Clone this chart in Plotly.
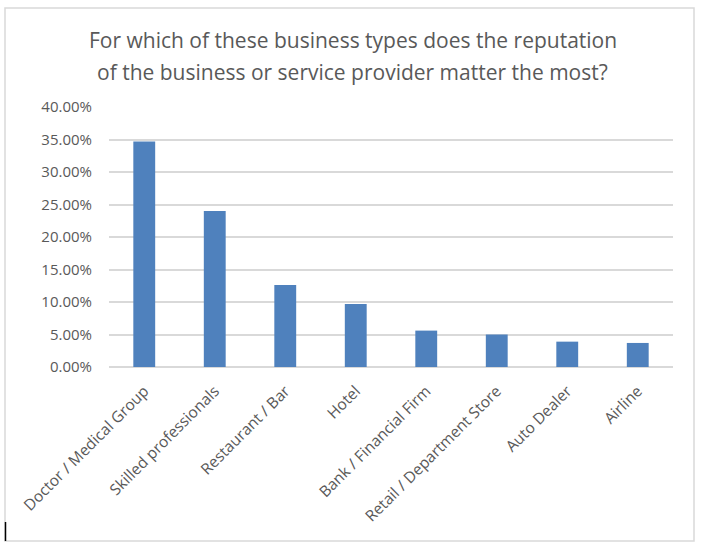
import plotly.graph_objects as go

categories = ["Doctor / Medical Group", "Skilled professionals", "Restaurant / Bar", "Hotel",
              "Bank / Financial Firm", "Retail / Department Store", "Auto Dealer", "Airline"]
values = [0.347, 0.240, 0.126, 0.097, 0.056, 0.050, 0.039, 0.037]
y_ticks = [0, 0.05, 0.10, 0.15, 0.20, 0.25, 0.30, 0.35, 0.40]
y_tick_labels = ["0.00%", "5.00%", "10.00%", "15.00%", "20.00%", "25.00%", "30.00%", "35.00%", "40.00%"]
title_lines = ["For which of these business types does the reputation",
               "of the business or service provider matter the most?"]

fig = go.Figure(go.Bar(x=categories, y=values, marker_color="#4f81bd", marker_line_width=0))

plot_h = 548 - 107 - 181
plot_w = 701 - 109 - 28


def py(pix):
    return (548 - 181 - pix) / plot_h


def px(pix):
    return (pix - 109) / plot_w


annotations = [
    dict(text=title_lines[0], xref="paper", yref="paper", x=0.432, y=py(40), xanchor="center",
         yanchor="middle", showarrow=False, font=dict(size=21, color="#595959", family="Open Sans")),
    dict(text=title_lines[1], xref="paper", yref="paper", x=0.432, y=py(72), xanchor="center",
         yanchor="middle", showarrow=False, font=dict(size=21, color="#595959", family="Open Sans")),
]

fig.update_layout(
    width=701, height=548,
    paper_bgcolor="white", plot_bgcolor="white",
    margin=dict(l=109, r=28, t=107, b=181),
    bargap=0.69,
    showlegend=False,
    font=dict(family="Open Sans", color="#595959"),
    annotations=annotations,
    xaxis=dict(tickangle=-45, tickfont=dict(size=15.5, color="#595959"), showgrid=False,
               showline=False, ticks="", ticklabelstandoff=11),
    yaxis=dict(range=[0, 0.40], tickvals=y_ticks, ticktext=y_tick_labels,
               tickfont=dict(size=15, color="#595959"), showgrid=True, gridcolor="#d9d9d9",
               gridwidth=1.5, zeroline=True, zerolinecolor="#d9d9d9", zerolinewidth=1.5,
               showline=False, ticks="", ticklabelstandoff=16),
    shapes=[
        dict(type="rect", xref="paper", yref="paper", x0=px(5), x1=px(694), y0=py(541), y1=py(8),
             line=dict(color="#d9d9d9", width=1.5), fillcolor="rgba(0,0,0,0)", layer="below"),
        dict(type="line", xref="paper", yref="paper", x0=px(5.5), x1=px(5.5), y0=py(541), y1=py(522),
             line=dict(color="#000000", width=1.5)),
    ],
)

fig.write_html("out.html")
